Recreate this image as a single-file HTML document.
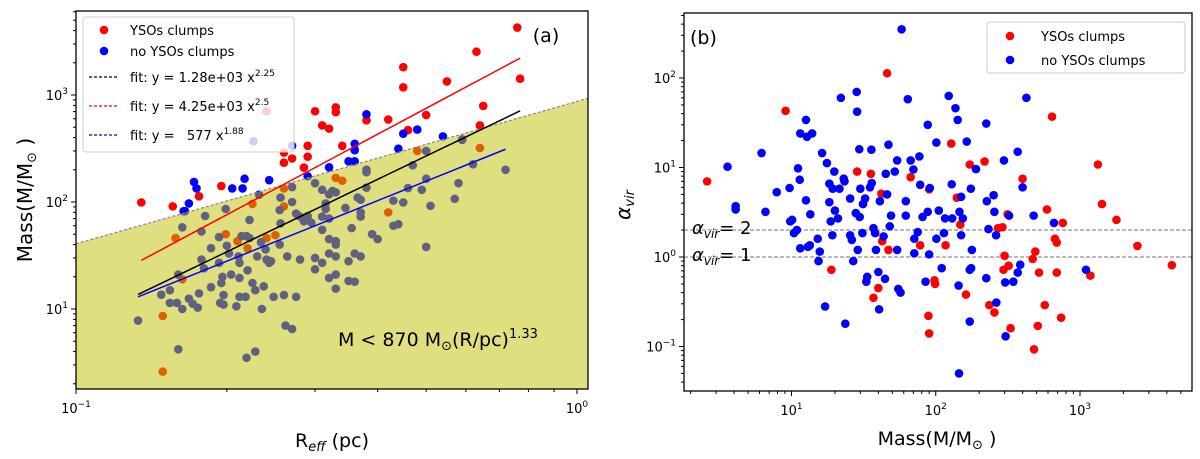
<!DOCTYPE html>
<html><head><meta charset="utf-8"><style>
html,body{margin:0;padding:0;background:#fff;}
svg{display:block;font-family:"DejaVu Sans","Liberation Sans",sans-serif;}
</style></head><body>
<svg id="fig" width="1200" height="459" viewBox="0 0 1200 459" xmlns="http://www.w3.org/2000/svg">
<rect width="1200" height="459" fill="#fff"/>
<g id="pa"></g>
<g id="pb"></g>
</svg>
<script>
// ===== Panel (a) data =====
const aRedR=[.135,.156,.176,.195,.24,.26,.26,.27,.285,.29,.29,.30,.31,.32,.33,.33,.34,.38,.42,.45,.45,.46,.50,.55,.63,.64,.65,.76,.77,
 .149,.149,.158,.163,.199,.21,.225,.22,.24,.25,.26,.26,.29,.33,.34,.42,.48,.64];
const aRedM=[99,91,113,141,705,290,233,255,210,265,335,705,520,485,765,690,335,580,590,1180,1820,470,650,1340,2540,520,790,4270,1420,
 2.6,8.6,46,19,50,43,96,37,46,49,134,91,68,168,158,80,300,320];
const aBlueR=[.164,.168,.172,.174,.205,.215,.217,.243,.226,.27,.29,.32,.35,.36,.36,.36,.38,.44,.45,.48,.54,.59,
 .133,.148,.154,.154,.159,.16,.16,.163,.163,.165,.168,.171,.175,.176,.178,.178,.18,.181,.186,.186,.193,.193,.194,.195,.196,.197,.197,.199,.2,.202,.204,.209,.211,.212,.212,.212,.214,.218,.219,.219,.22,.222,.222,.225,.228,.228,.23,.232,.234,.235,.237,.239,.24,.243,.245,.248,.255,.256,.255,.256,.26,.264,.262,.27,.27,.27,.275,.275,.28,.28,.285,.29,.295,.30,.30,.31,.31,.31,.31,.315,.315,.32,.32,.32,.32,.32,.325,.33,.33,.33,.33,.33,.33,.345,.35,.35,.355,.36,.36,.365,.37,.37,.37,.37,.38,.38,.39,.40,.43,.43,.44,.45,.46,.47,.49,.50,.50,.50,.51,.57,.58,.59,.62,.72,.38,.30];
const aBlueM=[82,97,154,134,134,134,165,160,370,335,174,211,240,240,350,305,660,315,435,475,410,380,
 7.8,13.6,15,11.4,11.4,4.2,21,58,10,82,12.5,11.2,10.3,14,53,29,24,74,37,16,47,27,11.4,17.5,20,13.5,11,86,39,33,21,10.6,31,27,19.5,13,48,13,3.5,48,23,68,46,17.5,15,4,31,117,42,10,16.3,36,29,27,28,13,84,110,40,63,13.5,31,7,6.5,138,100,13,78,29,73,66,74,64,30,23.5,55,27,130,73,97,86,33,19.5,45,70,118,127,21,43,40,31,15.5,123,88,28,18.3,57,18,33,110,73,80,105,31,190,200,50,45,103,60,62,99,135,220,130,165,300,38,92,107,150,385,225,200,136,150];
const fitNames=["black","red","blue"];
const fitA=[1280,4250,577];
const fitB=[2.25,2.5,1.88];
const fitXmin=[.133,.135,.133];
const fitXmax=[.77,.77,.72];
const limA=870, limB=1.33;
const aXTicks=[0.1,1];const aXTickLabels=["10","10"];const aXTickExp=["−1","0"];
const aYTicks=[10,100,1000];const aYTickExp=["1","2","3"];

// ===== Panel (b) data =====
const bRedM=[2.6,9.1,18.9,28.5,35.5,37,40,42,42.5,46,47,67,78,89,90,90,98,99,117,128,140,148,162,172,218,235,255,270,290,300,295,315,320,330,400,470,490,480,520,510,570,590,640,670,690,690,740,760,1180,1330,1420,1790,2500,4330];
const bRedA=[7.0,43,.72,9,8.5,.35,.45,5.1,1.5,113,1.2,7.8,1.35,.22,.14,5.7,.55,.5,1.35,18.5,4.6,2.3,.38,10.8,11.7,.29,.24,2.1,2.15,1.03,.72,3.0,.8,.16,7.5,.95,1.15,.093,.67,.17,.29,3.4,37,1.6,1.45,.67,.21,2.4,.62,10.8,3.9,2.6,1.33,.81];
const bBlueM=[3.6,4.1,4.1,6.2,6.6,7.9,9.7,9.8,10.1,10.4,10.9,11.1,11.4,11.5,12.6,12.6,12.8,11.5,13,13.4,13.5,13.9,15.2,15.4,15.7,16.3,17.1,17.6,18.3,18.3,18.7,19.2,19.3,19.8,20,21,21.5,22,23,23.3,23.6,25.5,25.5,26.2,26.8,27.9,28.3,28.5,28.8,29.5,29.7,30,31,31.3,32.4,33,33.5,35,35.8,36,37,38,38.5,40,40.5,41,43.5,44.5,45,46,47,48,49,52,54,54,55,57,58,62,62,64,67,70,71,71,75,77,78,81,85,88,88,90,91,101,101,105,110,114,116,123,129,130,137,142,144,146,150,150,154,164,172,175,176,178,190,224,224,226,232,252,255,262,263,297,303,305,322,345,370,370,385,400,425,477,660,1100,172,145];
const bBlueA=[10.2,3.7,3.4,14.5,3.2,5.3,5.9,2.5,2.6,1.85,2.0,9.8,7.3,24,34,4.3,22,1.25,1.3,1.35,3.0,24,1.6,.9,1.15,14.5,.28,11.2,4.1,6.6,2.5,1.75,5.8,9.0,3.3,2.7,5.8,60,7.5,7.0,.18,4.5,1.75,1.55,.9,3.1,70,42,1.2,16,2.8,5.8,1.85,3.9,4.5,.53,.6,6,15.8,6.7,2.1,1.85,1.2,.68,.26,4.2,1.7,.57,8.5,5,18,2.2,2.9,9,12,1.2,.44,.4,350,4.2,2.9,58,12,9.5,1.6,1.1,1.9,13.3,6.4,2.8,.53,30,3.2,1.07,5.9,19,1.6,3.3,.75,1.85,2.7,63,6.5,2.7,46,34,.48,3.2,4.7,1.75,2.7,19.5,.72,5.8,.75,1.2,9.6,31,.58,4.2,2.05,4.9,3.2,1.75,.31,12,.52,.13,2.9,.53,15,.67,.82,6,60,2.9,2.4,.72,.19,.05];
const bHlines=[2,1];
const bXTicks=[10,100,1000];const bXTickExp=["1","2","3"];
const bYTicks=[0.1,1,10,100];const bYTickExp=["−1","0","1","2"];

const NS="http://www.w3.org/2000/svg";
function mk(parent,tag,attrs){const e=document.createElementNS(NS,tag);for(const k in attrs)e.setAttribute(k,attrs[k]);parent.appendChild(e);return e;}
function logScale(d0,d1,p0,p1){const l0=Math.log10(d0),l1=Math.log10(d1);return v=>p0+(Math.log10(v)-l0)/(l1-l0)*(p1-p0);}

// ===== Panel A =====
const pa=document.getElementById('pa');
const aL=76,aR=588,aT=11,aB=389;
const ax=logScale(0.1,1,76,577);
const ay=logScale(10,1000,309,95);
const aYmin=Math.pow(10,1+(309-aB)/107), aXmax=Math.pow(10,-1+(aR-76)/501);
let cp=mk(pa,'clipPath',{id:'clipA'});mk(cp,'rect',{x:aL,y:aT,width:aR-aL,height:aB-aT});
const aPts=mk(pa,'g',{'clip-path':'url(#clipA)'});
for(let i=0;i<aRedR.length;i++){const c=mk(aPts,'circle',{cx:ax(aRedR[i]),cy:ay(aRedM[i]),r:4.3,fill:'#ff0000'});

}
for(let i=0;i<aBlueR.length;i++){const c=mk(aPts,'circle',{cx:ax(aBlueR[i]),cy:ay(aBlueM[i]),r:4.3,fill:'#0000ff'});

}
// shaded region
{const x0=0.1,x1=aXmax;const pts=[];const n=20;for(let i=0;i<=n;i++){const x=x0*Math.pow(x1/x0,i/n);pts.push(ax(x)+','+ay(limA*Math.pow(x,limB)));}
const poly=mk(aPts,'polygon',{points:pts.join(' ')+' '+ax(x1)+','+aB+' '+ax(x0)+','+aB,fill:'rgba(191,191,0,0.5)'});


const ed=mk(aPts,'polyline',{points:pts.join(' '),fill:'none',stroke:'#888','stroke-width':1.2,'stroke-dasharray':'3,2'});

}
// fit lines
for(let k=0;k<3;k++){const p=[];for(let i=0;i<=20;i++){const x=fitXmin[k]*Math.pow(fitXmax[k]/fitXmin[k],i/20);p.push(ax(x)+','+ay(fitA[k]*Math.pow(x,fitB[k])));}
const l=mk(aPts,'polyline',{points:p.join(' '),fill:'none',stroke:fitNames[k]=='black'?'#000':(fitNames[k]=='red'?'#ff0000':'#0000ff'),'stroke-width':1.5});

}
// frame
mk(pa,'rect',{x:aL,y:aT,width:aR-aL,height:aB-aT,fill:'none',stroke:'#000','stroke-width':1.3});
// ticks
for(let d=-1;d<=0;d++)for(let m=1;m<10;m++){const v=m*Math.pow(10,d);const X=ax(v);if(X<aL-0.5||X>aR)continue;mk(pa,'line',{x1:X,x2:X,y1:aB,y2:aB+(m==1?5:3),stroke:'#000','stroke-width':1});}
for(let d=0;d<=3;d++)for(let m=1;m<10;m++){const v=m*Math.pow(10,d);const Y=ay(v);if(Y<aT||Y>aB)continue;mk(pa,'line',{x1:aL,x2:aL-(m==1?5:3),y1:Y,y2:Y,stroke:'#000','stroke-width':1});}
aXTicks.forEach((v,i)=>{const t=mk(pa,'text',{x:ax(v),y:aB+24,'text-anchor':'middle','font-size':13});t.innerHTML=aXTickLabels[i]+'<tspan dy="-6" font-size="9">'+aXTickExp[i]+'</tspan>';

});
aYTicks.forEach((v,i)=>{const t=mk(pa,'text',{x:aL-8,y:ay(v)+5,'text-anchor':'end','font-size':13});t.innerHTML='10<tspan dy="-6" font-size="9">'+aYTickExp[i]+'</tspan>';

});
// labels
let t=mk(pa,'text',{x:332,y:447,'text-anchor':'middle','font-size':19});t.innerHTML='R<tspan dy="4" font-size="13" font-style="italic">eff</tspan><tspan dy="-4"> (pc)</tspan>';

t=mk(pa,'text',{x:0,y:0,'text-anchor':'middle','font-size':20,transform:'translate(32,200) rotate(-90)'});t.innerHTML='Mass(M/M<tspan font-size="13" dy="4">⊙</tspan><tspan dy="-4"> )</tspan>';

t=mk(pa,'text',{x:546,y:42,'text-anchor':'middle','font-size':19});t.textContent='(a)';

t=mk(pa,'text',{x:338,y:346,'font-size':19});t.innerHTML='M &lt; 870 M<tspan font-size="13" dy="4">⊙</tspan><tspan dy="-4">(R/pc)</tspan><tspan dy="-8" font-size="13">1.33</tspan>';

// legend A
{const lg=mk(pa,'g',{});
mk(lg,'rect',{x:83,y:17,width:211,height:135,rx:3,fill:'rgba(255,255,255,0.8)',stroke:'#ccc'});
mk(lg,'circle',{cx:104,cy:30,r:4.3,fill:'#f00'});mk(lg,'circle',{cx:104,cy:51,r:4.3,fill:'#00f'});
let e=mk(lg,'text',{x:130,y:35,'font-size':13});e.textContent='YSOs clumps';
e=mk(lg,'text',{x:130,y:56,'font-size':13});e.textContent='no YSOs clumps';
const cols=['#000','#f00','#00f'],ys=[77,106,135],txt=['fit: y = 1.28e+03 x<tspan dy="-6" font-size="9">2.25</tspan>','fit: y = 4.25e+03 x<tspan dy="-6" font-size="9">2.5</tspan>','fit: y = &#160;&#160;577 x<tspan dy="-6" font-size="9">1.88</tspan>'];
for(let i=0;i<3;i++){mk(lg,'line',{x1:89,x2:118,y1:ys[i],y2:ys[i],stroke:cols[i],'stroke-width':1.3,'stroke-dasharray':'3,2'});
e=mk(lg,'text',{x:130,y:ys[i]+5,'font-size':13});e.innerHTML=txt[i];}}

// ===== Panel B =====
const pb=document.getElementById('pb');
const bL=684,bR=1192,bT=13,bB=391;
const bx=logScale(10,1000,791.5,1080);
const by=logScale(1,100,257,78);
cp=mk(pb,'clipPath',{id:'clipB'});mk(cp,'rect',{x:bL,y:bT,width:bR-bL,height:bB-bT});
const bPts=mk(pb,'g',{'clip-path':'url(#clipB)'});
bHlines.forEach(v=>{const l=mk(bPts,'line',{x1:bL,x2:bR,y1:by(v),y2:by(v),stroke:'#777','stroke-width':1,'stroke-dasharray':'4,2'});

});
for(let i=0;i<bRedM.length;i++){const c=mk(bPts,'circle',{cx:bx(bRedM[i]),cy:by(bRedA[i]),r:4.3,fill:'#ff0000'});

}
for(let i=0;i<bBlueM.length;i++){const c=mk(bPts,'circle',{cx:bx(bBlueM[i]),cy:by(bBlueA[i]),r:4.3,fill:'#0000ff'});

}
mk(pb,'rect',{x:bL,y:bT,width:bR-bL,height:bB-bT,fill:'none',stroke:'#000','stroke-width':1.3});
for(let d=0;d<=3;d++)for(let m=1;m<10;m++){const v=m*Math.pow(10,d);const X=bx(v);if(X<bL||X>bR)continue;mk(pb,'line',{x1:X,x2:X,y1:bB,y2:bB+(m==1?5:3),stroke:'#000','stroke-width':1});}
for(let d=-2;d<=2;d++)for(let m=1;m<10;m++){const v=m*Math.pow(10,d);const Y=by(v);if(Y<bT||Y>bB)continue;mk(pb,'line',{x1:bL,x2:bL-(m==1?5:3),y1:Y,y2:Y,stroke:'#000','stroke-width':1});}
bXTicks.forEach((v,i)=>{const t=mk(pb,'text',{x:bx(v),y:bB+24,'text-anchor':'middle','font-size':13});t.innerHTML='10<tspan dy="-6" font-size="9">'+bXTickExp[i]+'</tspan>';

});
bYTicks.forEach((v,i)=>{const t=mk(pb,'text',{x:bL-8,y:by(v)+5,'text-anchor':'end','font-size':13});t.innerHTML='10<tspan dy="-6" font-size="9">'+bYTickExp[i]+'</tspan>';

});
t=mk(pb,'text',{x:937,y:445,'text-anchor':'middle','font-size':19});t.innerHTML='Mass(M/M<tspan font-size="13" dy="4">⊙</tspan><tspan dy="-4"> )</tspan>';

t=mk(pb,'text',{x:0,y:0,'text-anchor':'middle','font-size':20,transform:'translate(630,205) rotate(-90)'});t.innerHTML='<tspan font-style="italic">α</tspan><tspan font-size="13" dy="4" font-style="italic">vir</tspan>';

t=mk(pb,'text',{x:690,y:44,'font-size':19});t.textContent='(b)';

[['2',by(2)-4],['1',by(1)-4]].forEach(a=>{const e=mk(pb,'text',{x:692,y:a[1]+8,'font-size':18});e.innerHTML='<tspan font-style="italic">α</tspan><tspan font-size="12" dy="4" font-style="italic">vir</tspan><tspan dy="-4">= '+a[0]+'</tspan>';

});
{const lg=mk(pb,'g',{});
mk(lg,'rect',{x:987,y:22,width:198,height:51,rx:3,fill:'rgba(255,255,255,0.8)',stroke:'#ccc'});
mk(lg,'circle',{cx:1010,cy:36,r:4.3,fill:'#f00'});mk(lg,'circle',{cx:1010,cy:60,r:4.3,fill:'#00f'});
let e=mk(lg,'text',{x:1041,y:41,'font-size':13});e.textContent='YSOs clumps';
e=mk(lg,'text',{x:1041,y:65,'font-size':13});e.textContent='no YSOs clumps';}
</script>
</body></html>
